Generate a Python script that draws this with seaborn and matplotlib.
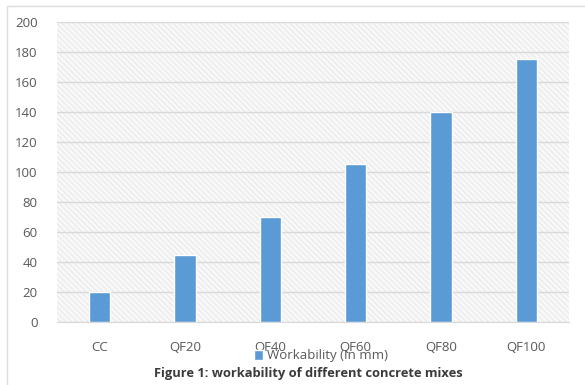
import matplotlib
matplotlib.use("Agg")
import matplotlib.pyplot as plt
from matplotlib.patches import Rectangle
import seaborn as sns
import pandas as pd

mixes = ["CC", "QF20", "QF40", "QF60", "QF80", "QF100"]
workability = [20, 45, 70, 105, 140, 175]
y_ticks = [0, 20, 40, 60, 80, 100, 120, 140, 160, 180, 200]
series_label = "Workability (In mm)"
caption = "Figure 1: workability of different concrete mixes"

sns.set_style("white")
plt.rcParams["font.family"] = ["Open Sans", "DejaVu Sans"]
plt.rcParams["hatch.linewidth"] = 0.5
plt.rcParams["hatch.color"] = "#e2e2e2"

df = pd.DataFrame({"mix": mixes, "workability": workability})

fig = plt.figure(figsize=(5.85, 3.85), dpi=100)
fig.patch.set_facecolor("white")

# thin outer frame of the chart area
fig.patches.append(Rectangle((7 / 585, -0.1), 1.2, 1 - 6 / 385 + 0.1,
                             transform=fig.transFigure, fill=False,
                             edgecolor="#dcdcdc", linewidth=1.0))

ax = fig.add_axes([57 / 585, 1 - 322 / 385, 512 / 585, 300 / 385])
ax.set_facecolor("#f8f8f8")

# diagonal hatched plot background
ax.add_patch(Rectangle((0, 0), 1, 1, transform=ax.transAxes, facecolor="#f8f8f8",
                       edgecolor="#e2e2e2", hatch="\\\\\\\\\\\\", linewidth=0, zorder=0))

sns.barplot(data=df, x="mix", y="workability", color="#5b9bd5", width=0.25,
            saturation=1, ax=ax, zorder=3, label=series_label)

ax.set_ylim(0, 200)
ax.set_yticks(y_ticks)
ax.set_xlim(-0.5, len(mixes) - 0.5)
ax.yaxis.grid(True, color="#d9d9d9", linewidth=1.0, zorder=1)
ax.set_axisbelow(True)
for s in ["top", "right", "left"]:
    ax.spines[s].set_visible(False)
ax.spines["bottom"].set_color("#d9d9d9")
ax.tick_params(axis="both", length=0, labelsize=9.5, colors="#595959")
ax.tick_params(axis="x", pad=14)
ax.tick_params(axis="y", pad=14)
ax.set_xlabel("")
ax.set_ylabel("")

leg = ax.legend(loc="center", bbox_to_anchor=(321 / 585, 1 - 356 / 385),
                bbox_transform=fig.transFigure, frameon=False,
                fontsize=9.5, handlelength=0.7, handleheight=0.7,
                handletextpad=0.3, labelcolor="#595959", borderaxespad=0,
                borderpad=0)

fig.text(308 / 585, 1 - 374 / 385, caption, ha="center", va="center",
         fontsize=9.3, fontweight="bold", color="#3a3a3a")

fig.savefig("out.png", dpi=100)
